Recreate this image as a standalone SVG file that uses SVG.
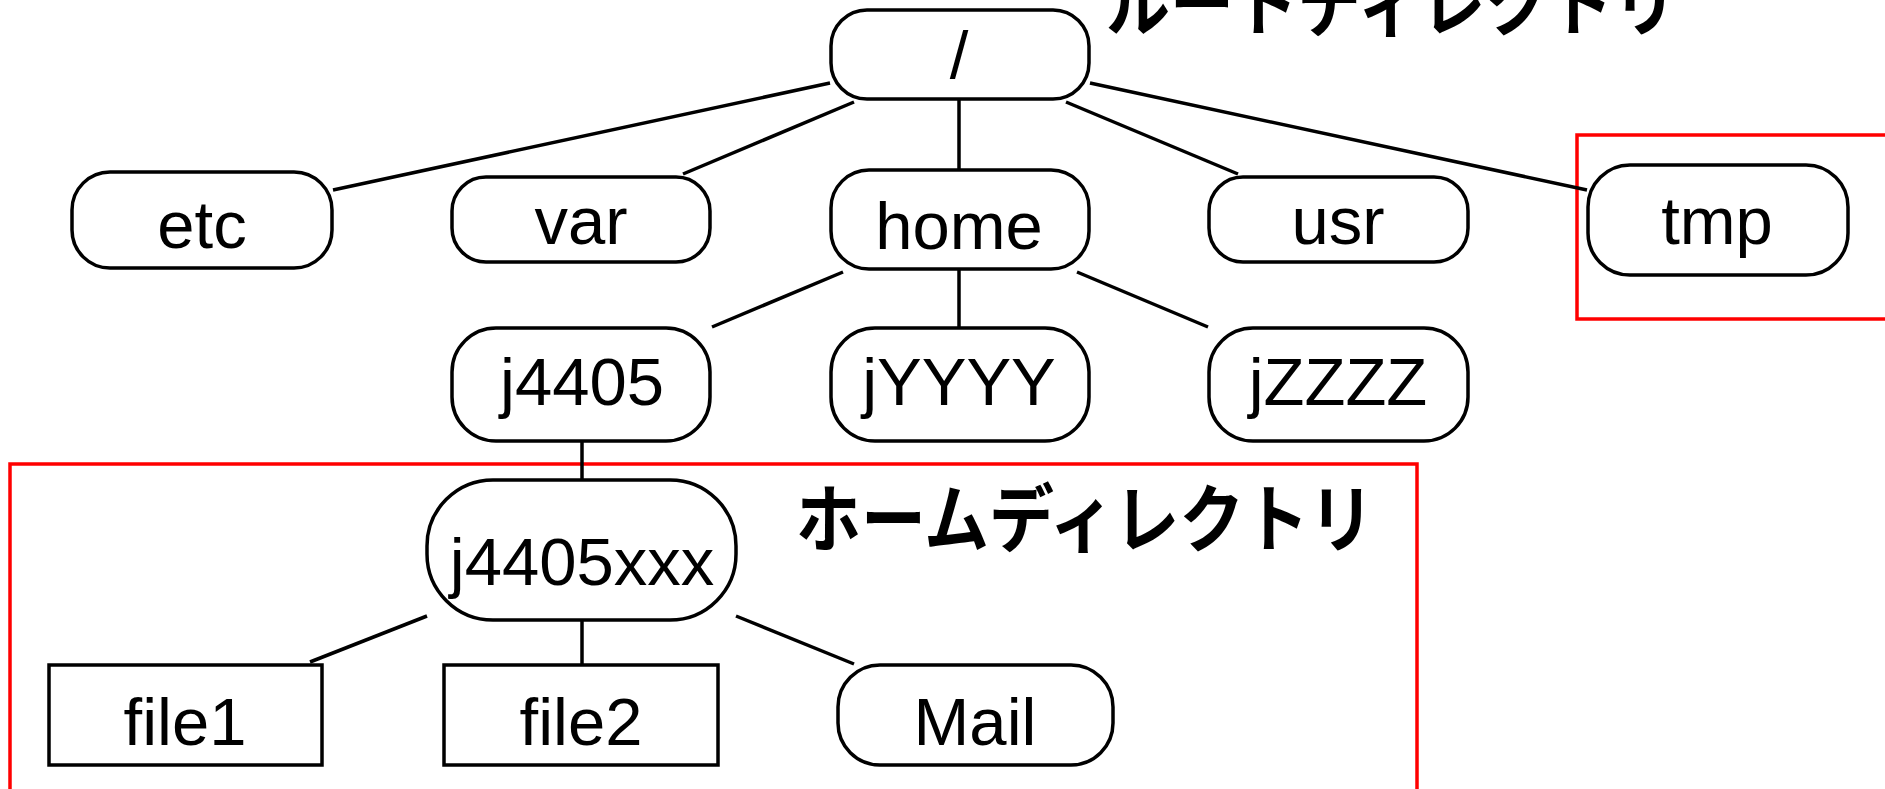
<svg xmlns="http://www.w3.org/2000/svg" width="1885" height="789" viewBox="0 0 1885 789">
<style>
.n{fill:#fff;stroke:#000;stroke-width:3.5}
.t{font-family:"Liberation Sans",Arial,sans-serif;font-size:67px;text-anchor:middle;fill:#000}
.c line{stroke:#000;stroke-width:3.5}
.r{fill:none;stroke:#f00;stroke-width:3.5}
.j{font-family:"Noto Sans CJK JP","Noto Sans CJK SC",sans-serif;font-weight:bold;font-size:74px;fill:#000}
</style>
<rect width="1885" height="789" fill="#fff"/>
<rect class="r" x="1577" y="135" width="320" height="184"/>
<rect class="r" x="10" y="464" width="1407" height="340"/>
<g class="c">
<line x1="830" y1="83" x2="333" y2="190"/>
<line x1="854" y1="102" x2="683" y2="174"/>
<line x1="959" y1="99" x2="959" y2="170"/>
<line x1="1066" y1="102" x2="1238" y2="174"/>
<line x1="1090" y1="83" x2="1587" y2="190"/>
<line x1="843" y1="272" x2="712" y2="327"/>
<line x1="959" y1="269" x2="959" y2="328"/>
<line x1="1077" y1="272" x2="1208" y2="327"/>
<line x1="582" y1="441" x2="582" y2="480"/>
<line x1="427" y1="616" x2="310" y2="662"/>
<line x1="582" y1="620" x2="582" y2="665"/>
<line x1="736" y1="616" x2="854" y2="664"/>
</g>
<g id="root"><rect class="n" x="831" y="10" width="258" height="89" rx="36"/><text class="t" x="959" y="78">/</text></g>
<g id="etc"><rect class="n" x="72" y="172" width="260" height="96" rx="38"/><text class="t" x="202" y="248">etc</text></g>
<g id="var"><rect class="n" x="452" y="177" width="258" height="85" rx="34"/><text class="t" x="581" y="244">var</text></g>
<g id="home"><rect class="n" x="831" y="170" width="258" height="99" rx="38"/><text class="t" x="959" y="249">home</text></g>
<g id="usr"><rect class="n" x="1209" y="177" width="259" height="85" rx="34"/><text class="t" x="1338" y="244">usr</text></g>
<g id="tmp"><rect class="n" x="1588" y="165" width="260" height="110" rx="42"/><text class="t" x="1717" y="244">tmp</text></g>
<g id="j4405"><rect class="n" x="452" y="328" width="258" height="113" rx="44"/><text class="t" x="582" y="405">j4405</text></g>
<g id="jYYYY"><rect class="n" x="831" y="328" width="258" height="113" rx="44"/><text class="t" x="959" y="405">jYYYY</text></g>
<g id="jZZZZ"><rect class="n" x="1209" y="328" width="259" height="113" rx="44"/><text class="t" x="1338" y="405">jZZZZ</text></g>
<g id="j4405xxx"><rect class="n" x="427" y="480" width="309" height="140" rx="66"/><text class="t" x="582" y="585">j4405xxx</text></g>
<g id="file1"><rect class="n" x="49" y="665" width="273" height="100"/><text class="t" x="185" y="745">file1</text></g>
<g id="file2"><rect class="n" x="444" y="665" width="274" height="100"/><text class="t" x="581" y="745">file2</text></g>
<g id="Mail"><rect class="n" x="838" y="665" width="275" height="100" rx="42"/><text class="t" x="975" y="745">Mail</text></g>
<text class="j" x="796" y="546" textLength="578" lengthAdjust="spacingAndGlyphs">ホームディレクトリ</text>
<text class="j" x="1106" y="30" textLength="571" lengthAdjust="spacingAndGlyphs">ルートディレクトリ</text>
</svg>
